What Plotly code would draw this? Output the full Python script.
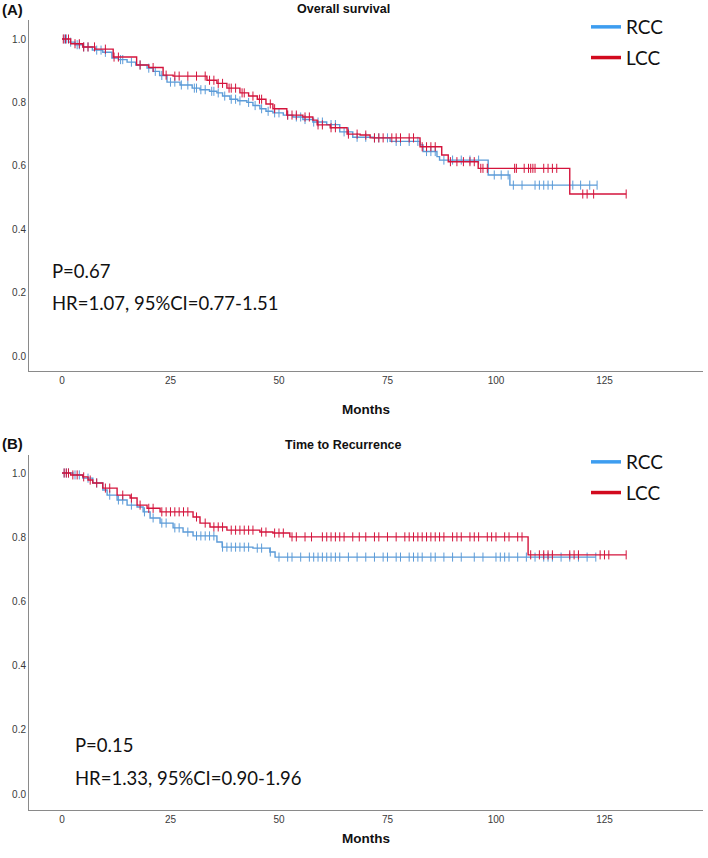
import plotly.graph_objects as go

W, H = 708, 858

# ---------------- data ----------------
month_ticks = [0, 25, 50, 75, 100, 125]
surv_ticks = [0.0, 0.2, 0.4, 0.6, 0.8, 1.0]
surv_tick_labels = ["0.0", "0.2", "0.4", "0.6", "0.8", "1.0"]
groups = ["RCC", "LCC"]

# Overall survival - RCC (blue)
os_rcc_t = [0, 1.5, 3, 4.8, 7, 9.4, 11.5, 13, 15, 17, 19.6, 21, 22.5, 24.2, 27.2, 30, 31.8,
            34, 35.7, 37, 38.7, 40.5, 42.6, 44, 45.6, 47, 48.6, 51, 53.2, 55.5, 57.8, 61,
            64, 67, 71.7, 75.6, 82.5, 83.2, 86.4, 87, 98.2, 103.2]
os_rcc_s = [1.0, 0.99, 0.982, 0.975, 0.965, 0.958, 0.94, 0.935, 0.927, 0.918, 0.908, 0.898,
            0.885, 0.864, 0.855, 0.845, 0.84, 0.835, 0.83, 0.82, 0.81, 0.805, 0.80, 0.79,
            0.78, 0.772, 0.767, 0.76, 0.754, 0.746, 0.738, 0.73, 0.707, 0.69, 0.688, 0.677,
            0.666, 0.645, 0.629, 0.618, 0.571, 0.539]
os_rcc_end = 123.3
os_rcc_cens = [0.5, 1, 2, 3.5, 4, 5, 6, 8, 9, 10, 13.5, 14, 16, 18, 20, 21.5, 23, 25, 26,
               27.5, 29, 30.5, 31, 32, 33, 34.5, 35, 36, 37.5, 39, 40, 41, 43, 44.5, 46, 47.5,
               49, 50, 52, 54, 55, 56, 58, 59, 60, 62, 63, 65, 66, 68, 70, 72, 73, 75, 77,
               78, 80, 82, 84, 85, 86, 88, 90, 92, 94, 96, 99.6, 101.2, 102.8, 104, 106,
               109, 110, 111, 112, 113, 117.7, 119.5, 121.6, 123.3]

# Overall survival - LCC (red)
os_lcc_t = [0, 2, 4.8, 7.6, 11.8, 17.2, 20, 23.3, 25.6, 33.4, 35.7, 38, 41, 43, 45, 47,
            48.6, 51.8, 55.5, 57.8, 58.8, 61.8, 65.7, 68.7, 71, 82.5, 87.5, 89, 95.9, 117]
os_lcc_s = [1.0, 0.985, 0.975, 0.968, 0.943, 0.918, 0.91, 0.886, 0.883, 0.87, 0.86, 0.845,
            0.83, 0.82, 0.81, 0.795, 0.78, 0.76, 0.754, 0.744, 0.729, 0.72, 0.70, 0.697,
            0.688, 0.66, 0.634, 0.613, 0.592, 0.511]
os_lcc_end = 130
os_lcc_cens = [0.3, 0.8, 1.5, 3, 4, 5, 6, 7.5, 10, 12, 13, 18, 21, 24, 26, 27, 29, 31, 33,
               34, 35, 36, 37, 38.5, 39, 40, 41.5, 42, 44, 45.5, 46, 48, 49, 52, 53, 54, 56,
               57, 59, 60, 62, 63, 66, 68, 70, 72, 73, 74, 76, 77, 78, 80, 81, 83, 84, 85,
               86, 89.5, 91, 92.5, 94, 95, 96.5, 97, 98, 104.3, 104.7, 106.5, 107.5, 108,
               108.5, 109, 111, 112, 113, 114, 120, 121, 122.5, 130]

# Time to recurrence - RCC (blue)
ttr_rcc_t = [0, 2.5, 4.8, 7.1, 9.4, 10.4, 12.7, 15, 17.3, 18.7, 20.3, 22.6, 25.6, 27.9,
             30.2, 35.7, 36.9, 44, 47.9, 49.1]
ttr_rcc_s = [1.0, 0.994, 0.984, 0.969, 0.947, 0.931, 0.916, 0.9, 0.894, 0.879, 0.86, 0.844,
             0.829, 0.816, 0.804, 0.785, 0.769, 0.766, 0.754, 0.738]
ttr_rcc_end = 123
ttr_rcc_cens = [0.5, 1, 1.5, 3, 4, 6, 8, 11, 13, 14, 16, 19, 21, 23, 24, 26, 27, 29, 31,
                32, 33, 34, 35, 37, 38, 39, 40, 41, 42, 43, 45, 46, 48, 50, 52, 53, 55, 57,
                58, 59, 60, 61, 62, 63, 64, 66, 68, 70, 72, 74, 75, 77, 78, 80, 81, 82, 83,
                85, 86, 88, 90, 92, 95, 97, 100, 101, 102, 103, 105, 107, 109, 111, 112, 113,
                115, 117, 119, 121, 123]

# Time to recurrence - LCC (red)
ttr_lcc_t = [0, 2, 4.8, 6, 7.1, 9.4, 12.7, 15.7, 17.3, 19.6, 22.6, 30.2, 31.8, 34.1, 38,
             45.6, 48.6, 52.5, 107.4]
ttr_lcc_s = [1.0, 0.994, 0.988, 0.978, 0.969, 0.953, 0.931, 0.922, 0.9, 0.89, 0.879, 0.863,
             0.844, 0.832, 0.822, 0.816, 0.813, 0.801, 0.745]
ttr_lcc_end = 130
ttr_lcc_cens = [0.5, 1, 1.5, 2.5, 3.5, 5, 6.5, 8, 10, 11, 14, 16, 18, 20, 21, 23, 24, 25,
                26, 27, 28, 29, 31, 33, 35, 36, 37, 39, 40, 41, 42, 43, 44, 46, 47, 49, 50,
                51, 53, 54, 56, 57.5, 60, 61, 62, 63, 64, 65, 67, 68.5, 70, 72, 73, 75, 77,
                79, 80, 81, 82, 83, 84, 85, 86, 87, 88, 90, 91, 92, 94, 95, 96, 98, 99, 100,
                102, 103, 105, 106, 108, 110, 111, 112, 113, 117, 118, 119, 124, 125, 126, 130]

panel_titles = ["Overall survival", "Time to Recurrence"]
panel_labels = ["(A)", "(B)"]
p_texts = ["P=0.67", "P=0.15"]
hr_texts = ["HR=1.07, 95%CI=0.77-1.51", "HR=1.33, 95%CI=0.90-1.96"]

# ---------------- styling ----------------
BLUE = "#5b9bd8"
RED = "#d4143c"
LEG_BLUE = "#3d9df0"
LEG_RED = "#d20a1e"
AXIS = "#8a8a8a"
TICK_FONT = dict(family="Liberation Sans, Arial", size=10, color="#3a3a3a")


def px(x, y):
    return x / W, 1 - y / H


def step_at(ts, ss, c):
    v = ss[0]
    for t, s in zip(ts, ss):
        if t <= c:
            v = s
    return v


fig = go.Figure()

panels = [
    dict(xa="x", ya="y", curves=[(os_rcc_t, os_rcc_s, os_rcc_end, os_rcc_cens, BLUE),
                                 (os_lcc_t, os_lcc_s, os_lcc_end, os_lcc_cens, RED)],
         legend="legend"),
    dict(xa="x2", ya="y2", curves=[(ttr_rcc_t, ttr_rcc_s, ttr_rcc_end, ttr_rcc_cens, BLUE),
                                   (ttr_lcc_t, ttr_lcc_s, ttr_lcc_end, ttr_lcc_cens, RED)],
         legend="legend2"),
]

for p in panels:
    for (ts, ss, end, cens, col) in p["curves"]:
        fig.add_trace(go.Scatter(
            x=ts + [end], y=ss + [ss[-1]], mode="lines", line_shape="hv",
            line=dict(color=col, width=1.4), showlegend=False,
            xaxis=p["xa"], yaxis=p["ya"], hoverinfo="skip"))
        fig.add_trace(go.Scatter(
            x=cens, y=[step_at(ts, ss, c) for c in cens], mode="markers",
            marker=dict(symbol="line-ns-open", size=6.5, color=col,
                        line=dict(color=col, width=1)),
            showlegend=False, xaxis=p["xa"], yaxis=p["ya"], hoverinfo="skip"))
    for name, col in zip(groups, [LEG_BLUE, LEG_RED]):
        fig.add_trace(go.Scatter(
            x=[None], y=[None], mode="lines", name=name, legendgroup=name + p["legend"],
            line=dict(color=col, width=3.5), xaxis=p["xa"], yaxis=p["ya"],
            legend=p["legend"]))

# axes geometry (pixels)
x_left, x_right = 29, 703
top_y0, top_y1 = 20, 371
bot_y0, bot_y1 = 455, 810

xrange_ = [-7.6, 147.7]
yr_top = [-15 / 317, 1 + 19 / 317]
yr_bot = [-16 / 321, 1 + 18 / 321]

axis_common = dict(showline=True, linecolor=AXIS, linewidth=1, showgrid=False,
                   zeroline=False, ticks="", tickfont=TICK_FONT)

fig.update_layout(
    width=W, height=H, plot_bgcolor="white", paper_bgcolor="white",
    margin=dict(l=0, r=0, t=0, b=0),
    xaxis=dict(domain=[x_left / W, x_right / W], anchor="y", range=xrange_,
               tickvals=month_ticks, **axis_common),
    yaxis=dict(domain=[1 - top_y1 / H, 1 - top_y0 / H], anchor="x", range=yr_top,
               tickvals=surv_ticks, ticktext=surv_tick_labels, **axis_common),
    xaxis2=dict(domain=[x_left / W, x_right / W], anchor="y2", range=xrange_,
                tickvals=month_ticks, **axis_common),
    yaxis2=dict(domain=[1 - bot_y1 / H, 1 - bot_y0 / H], anchor="x2", range=yr_bot,
                tickvals=surv_ticks, ticktext=surv_tick_labels, **axis_common),
    legend=dict(x=586 / W, y=1 - 8 / H, xanchor="left", yanchor="top",
                font=dict(family="Lato", size=19, color="#111"), bgcolor="rgba(0,0,0,0)",
                tracegroupgap=3, traceorder="grouped"),
    legend2=dict(x=586 / W, y=1 - 443 / H, xanchor="left", yanchor="top",
                 font=dict(family="Lato", size=19, color="#111"), bgcolor="rgba(0,0,0,0)",
                 tracegroupgap=3, traceorder="grouped"),
)

ann = []
# panel labels and titles
for lab, title, ly, ty in zip(panel_labels, panel_titles, [9, 443], [9, 445]):
    x, y = px(0, ly)
    ann.append(dict(x=x, y=y, xref="paper", yref="paper", text="<b>" + lab + "</b>",
                    showarrow=False, xanchor="left", yanchor="middle",
                    font=dict(family="Liberation Sans, Arial", size=15, color="#111")))
    x, y = px(343, ty)
    ann.append(dict(x=x, y=y, xref="paper", yref="paper", text="<b>" + title + "</b>",
                    showarrow=False, xanchor="center", yanchor="middle",
                    font=dict(family="Liberation Sans, Arial", size=12.5, color="#111")))
# axis titles
for my in [409, 838]:
    x, y = px(366, my)
    ann.append(dict(x=x, y=y, xref="paper", yref="paper", text="<b>Months</b>",
                    showarrow=False, xanchor="center", yanchor="middle",
                    font=dict(family="Liberation Sans, Arial", size=13.5, color="#111")))
# statistics text
for ptxt, hrtxt, tx, py, hy in zip(p_texts, hr_texts, [50, 73], [271, 745], [303, 778]):
    x, y = px(tx, py)
    ann.append(dict(x=x, y=y, xref="paper", yref="paper", text=ptxt, showarrow=False,
                    xanchor="left", yanchor="middle",
                    font=dict(family="Lato", size=18.5, color="#111")))
    x, y = px(tx, hy)
    ann.append(dict(x=x, y=y, xref="paper", yref="paper", text=hrtxt, showarrow=False,
                    xanchor="left", yanchor="middle",
                    font=dict(family="Lato", size=18.5, color="#111")))

fig.update_layout(annotations=ann)

fig.write_html("out.html", config={"displayModeBar": False},
               post_script="document.body.style.margin='0';document.body.style.overflow='hidden';")
